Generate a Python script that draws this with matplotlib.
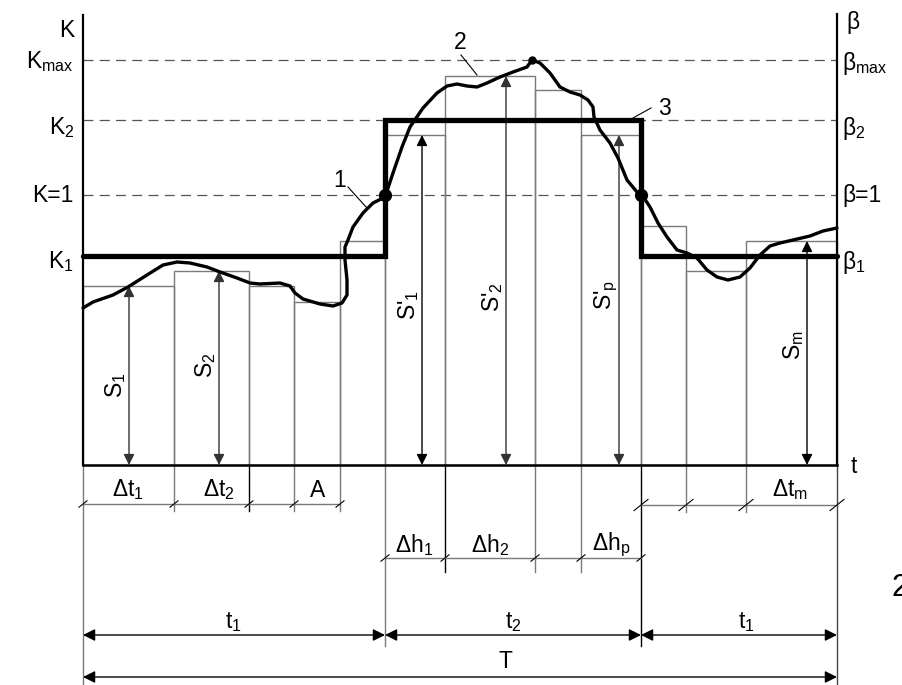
import numpy as np
import matplotlib
matplotlib.use("Agg")
import matplotlib.pyplot as plt

plt.rcParams['font.family'] = ['Liberation Sans', 'DejaVu Sans']
plt.rcParams['mathtext.fontset'] = 'custom'
plt.rcParams['mathtext.rm'] = 'Liberation Sans'
plt.rcParams['mathtext.it'] = 'Liberation Sans'

# Diagram units: horizontal = time, vertical = level (drawing units, y grows down)
x_left, x_right = 83, 837
y_base = 465
y_top = 15
y_Kmax, y_K2, y_K1eq, y_K1 = 60, 120, 195, 256

# switching moments of the ideal regime (curve 3)
t_on, t_off = 385, 641

# step approximation: left edges, right edges, levels
step_left = [83, 174, 249, 294, 340, 385, 445, 535, 581, 641, 686, 746]
step_right = [174, 249, 294, 340, 385, 445, 535, 581, 641, 686, 746, 837]
step_level = [286, 271, 286, 302, 241, 135, 76, 90, 135, 226, 271, 241]

curve_t = [83, 93, 113, 128, 147, 163, 177, 190, 207, 220, 237, 250, 260, 280,
           290, 295, 303, 320, 333, 342, 347, 347, 345, 345, 348, 353, 363, 373,
           385, 393, 402, 410, 423, 437, 447, 457, 467, 477, 487, 500, 513, 527,
           532, 540, 550, 560, 570, 580, 588, 593, 594, 600, 610, 618, 627, 637,
           642, 650, 658, 667, 677, 687, 697, 707, 717, 728, 740, 750, 760, 770,
           780, 793, 810, 823, 837]
curve_k = [308, 302, 295, 287, 275, 265, 262, 263, 267, 272, 278, 283, 284, 283,
           286, 293, 299, 304, 306, 303, 295, 280, 260, 247, 240, 227, 213, 203,
           197, 173, 147, 127, 108, 93, 86, 84, 86, 87, 83, 77, 72, 67,
           60, 63, 73, 87, 92, 95, 100, 107, 117, 130, 143, 158, 180, 192,
           195, 207, 223, 237, 250, 253, 258, 270, 277, 280, 277, 268, 255, 246,
           243, 240, 236, 231, 228]

# S arrows
s_x = [129, 219, 422, 506, 619, 807]
s_top = [286, 271, 135, 76, 135, 241]
s_labels = [r'S$_1$', r'S$_2$', r"S'$_1$", r"S'$_2$", r"S'$_\mathrm{p}$", r'S$_\mathrm{m}$']
s_label_y = [385, 365, 305, 297, 295, 345]
s_dark = [False, False, True, False, False, True]

fig = plt.figure(figsize=(9.03, 6.85), dpi=100)
ax = fig.add_axes([0, 0, 1, 1])
ax.set_xlim(0, 903)
ax.set_ylim(685, 0)
ax.axis('off')

gray = '#7a7a7a'
fs = 16.5

# dashed levels
for y in [y_Kmax, y_K2, y_K1eq]:
    ax.plot([x_left, x_right], [y, y], color='#555555', lw=0.9, dashes=(8, 5), zorder=1)

# step bars (outlines)
widths = np.array(step_right) - np.array(step_left)
heights = np.array(step_level) - y_base
ax.bar(step_left, heights, width=widths, bottom=y_base, align='edge',
       fill=False, edgecolor=gray, lw=1.0, zorder=2)

# axes
ax.plot([x_left, x_left], [y_top, y_base], color='black', lw=1.6, zorder=4)
ax.plot([x_right, x_right], [y_top - 1, y_base], color='black', lw=1.6, zorder=4)
ax.plot([x_left, x_right], [y_base, y_base], color='black', lw=1.8, zorder=4)

# extension lines below the base
ext_x = [83, 174, 249, 294, 340, 385, 445, 535, 581, 641, 686, 746, 837]
ext_end = [685, 511, 511, 511, 511, 646, 572, 572, 572, 646, 512, 512, 685]
ext_col = [gray, gray, 'black', gray, gray, gray, 'black', gray, gray, 'black', gray, gray, '#444444']
for x, ye, c in zip(ext_x, ext_end, ext_col):
    ax.plot([x, x], [y_base, ye], color=c, lw=1.0, zorder=2)

# ideal regime (curve 3)
reg_t = [x_left, t_on, t_on, t_off, t_off, x_right]
reg_k = [y_K1, y_K1, y_K2, y_K2, y_K1, y_K1]
ax.plot(reg_t, reg_k, color='black', lw=3.8, solid_joinstyle='miter', solid_capstyle='round', zorder=6)

# real curve
ax.plot(curve_t, curve_k, color='black', lw=2.4, solid_joinstyle='round', solid_capstyle='round', zorder=7)

# marked points
ax.plot([t_on, t_off], [y_K1eq, y_K1eq], 'o', color='black', ms=8.5, zorder=8)
ax.plot([532], [y_Kmax], 'o', color='black', ms=5, zorder=8)

# S arrows
for x, yt, lab, ly, dk in zip(s_x, s_top, s_labels, s_label_y, s_dark):
    c = 'black' if dk else '#333333'
    ax.annotate('', xy=(x, yt), xytext=(x, y_base),
                arrowprops=dict(arrowstyle='<|-|>', color=c, lw=1.0,
                                mutation_scale=16, shrinkA=0, shrinkB=0), zorder=5)
    ax.text(x - 13, ly, lab, rotation=90, ha='center', va='center', fontsize=fs, zorder=9)

# dimension rows with slashes
def dim_row(xs, y, color=gray, d=5):
    ax.plot([xs[0], xs[-1]], [y, y], color=color, lw=1.0)
    for x in xs:
        ax.plot([x - d, x + d], [y + d * 0.8, y - d * 0.8], color='black', lw=0.8)

dim_row([83, 174, 249, 294, 340], 504, d=4)
dim_row([641, 686, 746, 837], 505, d=7)
dim_row([385, 445, 535, 581, 641], 558, d=4)

# arrow dimension rows
def arrow_dim(x0, x1, y):
    ax.annotate('', xy=(x1, y), xytext=(x0, y),
                arrowprops=dict(arrowstyle='<|-|>', color='black', lw=1.0,
                                mutation_scale=18, shrinkA=0, shrinkB=0))

arrow_dim(x_left, t_on, 635)
arrow_dim(t_on, t_off, 635)
arrow_dim(t_off, x_right, 635)
arrow_dim(x_left, x_right, 677)

# bottom labels
bottom_text = [r'Δt$_1$', r'Δt$_2$', 'A', r'Δt$_\mathrm{m}$',
               r'Δh$_1$', r'Δh$_2$', r'Δh$_\mathrm{p}$',
               r't$_1$', r't$_2$', r't$_1$', 'T']
bottom_x = [128, 219, 318, 790, 414, 490, 611, 233, 513, 746, 505]
bottom_y = [490, 490, 490, 490, 545, 545, 545, 622, 622, 622, 662]
for s, x, y in zip(bottom_text, bottom_x, bottom_y):
    ax.text(x, y, s, ha='center', va='center', fontsize=fs)

# left scale labels
left_text = ['K', r'K$_\mathrm{max}$', r'K$_2$', 'K=1', r'K$_1$']
left_y = [30, 62, 128, 195, 262]
for s, y in zip(left_text, left_y):
    ax.text(74, y, s, ha='right', va='center', fontsize=fs)

# right scale labels
right_text = ['β', r'β$_\mathrm{max}$', r'β$_2$', 'β=1', r'β$_1$']
right_x = [846, 842, 842, 842, 842]
right_y = [22, 63, 128, 195, 262]
for s, x, y in zip(right_text, right_x, right_y):
    ax.text(x, y, s, ha='left', va='center', fontsize=fs)

ax.text(851, 466, 't', ha='left', va='center', fontsize=fs)

# curve numbers with leaders
ax.text(340, 180, '1', ha='center', va='center', fontsize=fs)
ax.plot([348, 367], [187, 208], color='black', lw=0.8)
ax.text(460, 42, '2', ha='center', va='center', fontsize=fs)
ax.plot([461, 477], [55, 75], color='black', lw=0.8)
ax.text(664, 108, '3', ha='center', va='center', fontsize=fs)
ax.plot([651, 633], [108, 118], color='black', lw=0.8)

# figure number, partly cut by the frame (as in the source)
ax.text(892, 588, '2', ha='left', va='center', fontsize=22)

fig.savefig('out.png', dpi=100)
